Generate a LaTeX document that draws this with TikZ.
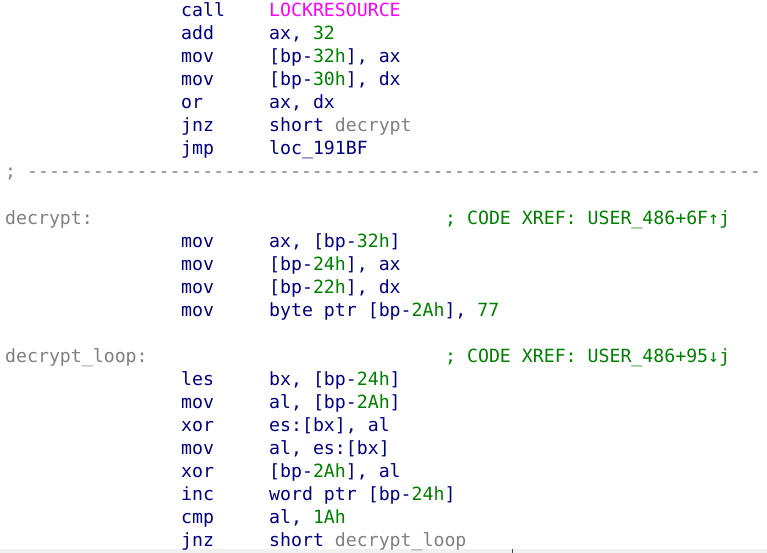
\documentclass[tikz,border=0pt]{standalone}
\usepackage{fontspec}
\setmonofont{DejaVu Sans Mono}[Scale=1]
\definecolor{cnavy}{RGB}{0,0,128}
\definecolor{cgreen}{RGB}{0,128,0}
\definecolor{cgray}{RGB}{128,128,128}
\definecolor{cmag}{RGB}{255,0,255}
\newcommand\gn[1]{\textcolor{cgreen}{#1}}
\newcommand\gy[1]{\textcolor{cgray}{#1}}
\begin{document}
\begin{tikzpicture}[x=1pt,y=-1pt,
  every node/.style={inner sep=0pt,anchor=base west,font=\fontsize{18.2}{20}\selectfont\ttfamily,text=cnavy}]
\useasboundingbox (0,0) rectangle (767,553);
\fill[white] (0,0) rectangle (767,553);
\fill[black!6] (0,549) rectangle (767,553);
\draw[black!70,line width=1pt] (512,549) -- (512,553);
% mnemonic col 181, operand 269, comment 445, label 5
\node (m0) at (181,17) {call};   \node (o0) at (269,17) {\textcolor{cmag}{LOCKRESOURCE}};
\node (m1) at (181,40) {add};    \node (o1) at (269,40) {ax, \gn{32}};
\node (m2) at (181,63) {mov};    \node (o2) at (269,63) {[bp-\gn{32h}], ax};
\node (m3) at (181,86) {mov};    \node (o3) at (269,86) {[bp-\gn{30h}], dx};
\node (m4) at (181,109) {or};    \node (o4) at (269,109) {ax, dx};
\node (m5) at (181,132) {jnz};   \node (o5) at (269,132) {short \gy{decrypt}};
\node (m6) at (181,155) {jmp};   \node (o6) at (269,155) {loc\_191BF};
\node[text=cgray] (sep) at (5,178) {; -------------------------------------------------------------------};
\node[text=cgray] (lab1) at (5,224) {decrypt:};
\node[text=cgreen] (c1) at (445,224) {; CODE XREF: USER\_486+6F↑j};
\node (m10) at (181,247) {mov};  \node (o10) at (269,247) {ax, [bp-\gn{32h}]};
\node (m11) at (181,270) {mov};  \node (o11) at (269,270) {[bp-\gn{24h}], ax};
\node (m12) at (181,293) {mov};  \node (o12) at (269,293) {[bp-\gn{22h}], dx};
\node (m13) at (181,316) {mov};  \node (o13) at (269,316) {byte ptr [bp-\gn{2Ah}], \gn{77}};
\node[text=cgray] (lab2) at (5,362) {decrypt\_loop:};
\node[text=cgreen] (c2) at (445,362) {; CODE XREF: USER\_486+95↓j};
\node (m16) at (181,385) {les};  \node (o16) at (269,385) {bx, [bp-\gn{24h}]};
\node (m17) at (181,408) {mov};  \node (o17) at (269,408) {al, [bp-\gn{2Ah}]};
\node (m18) at (181,431) {xor};  \node (o18) at (269,431) {es:[bx], al};
\node (m19) at (181,454) {mov};  \node (o19) at (269,454) {al, es:[bx]};
\node (m20) at (181,477) {xor};  \node (o20) at (269,477) {[bp-\gn{2Ah}], al};
\node (m21) at (181,500) {inc};  \node (o21) at (269,500) {word ptr [bp-\gn{24h}]};
\node (m22) at (181,523) {cmp};  \node (o22) at (269,523) {al, \gn{1Ah}};
\node (m23) at (181,546) {jnz};  \node (o23) at (269,546) {short \gy{decrypt\_loop}};
\end{tikzpicture}
\end{document}
